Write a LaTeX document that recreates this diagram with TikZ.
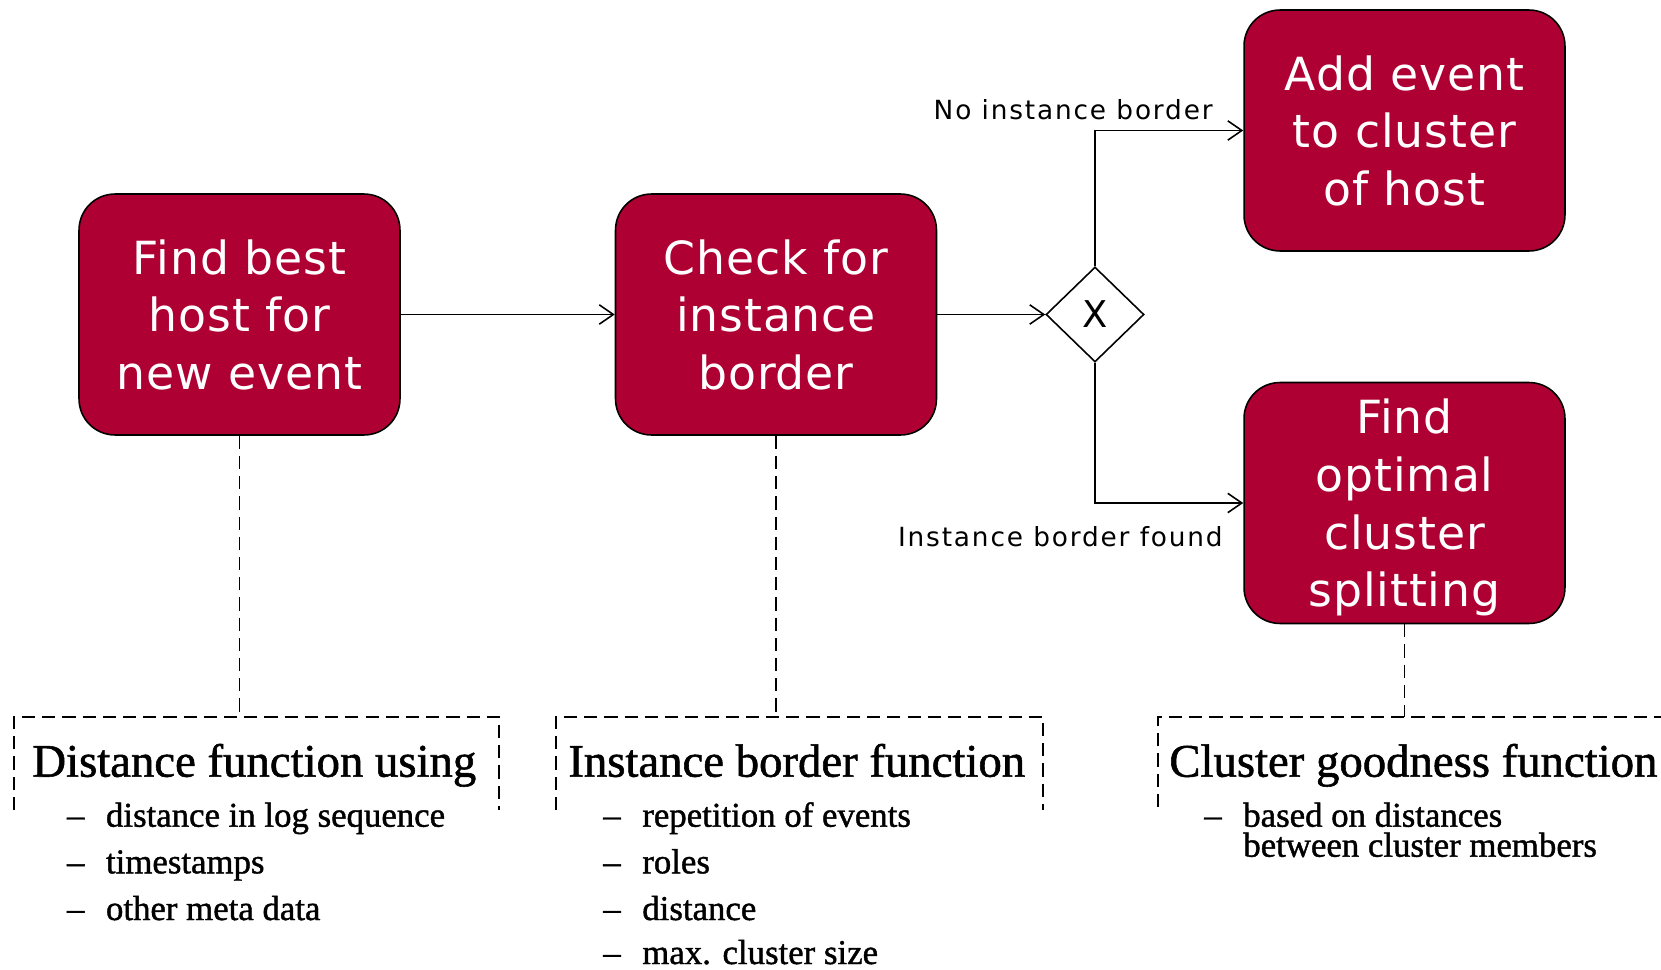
\documentclass[tikz,border=0pt]{standalone}
\usepackage{fontspec}
\setmainfont{Liberation Serif}[FakeBold=1.2]
\newfontfamily\flowfont{DejaVu Sans}[LetterSpace=2]
\newfontfamily\condfont{DejaVu Sans}[LetterSpace=7]
\usetikzlibrary{shapes.geometric,arrows.meta}
\definecolor{taskred}{RGB}{175,0,51}
\newcommand{\bitem}[1]{\makebox[0.78cm][l]{\textendash}#1}

\begin{document}
\begin{tikzpicture}[x=0.02cm,y=-0.02cm,
  task/.style={rectangle, rounded corners=0.72cm, draw=black, line width=0.9pt,
    fill=taskred, text=white, minimum width=6.42cm, minimum height=4.82cm,
    align=center, text depth=0pt, font=\flowfont\fontsize{26}{32.8}\selectfont},
  xorgate/.style={diamond, draw=black, line width=0.9pt, fill=white,
    minimum width=1.96cm, minimum height=1.9cm, inner sep=0pt,
    font=\flowfont\fontsize{21}{24}\selectfont},
  flow/.style={line width=0.9pt, -{Straight Barb[length=8pt,width=11pt]}},
  fence/.style={line width=1pt, dash pattern=on 7.5pt off 4pt},
  cond/.style={anchor=base east, inner sep=0pt, font=\condfont\fontsize{15}{18}\selectfont},
  head/.style={anchor=base west, inner sep=0pt, font=\fontsize{26.6}{30}\selectfont},
  item/.style={anchor=base west, inner sep=0pt, font=\fontsize{19.8}{24}\selectfont}]
\useasboundingbox (0,0) rectangle (1661,970);

% process steps
\node[task] (find) at (239.5,314.5) {Find best\\host for\\new event};
\node[task] (check) at (776,314.5) {Check for\\instance\\border};
\node[xorgate] (xor) at (1095,314.5) {X};
\node[task] (add) at (1404.5,130.5) {Add event\\to cluster\\of host};
\node[task] (split) at (1404.5,503) {Find\\optimal\\cluster\\splitting};

\draw[flow] (find) -- (check);
\draw[flow] (check) -- (xor);
\draw[flow] (xor.north) |- (add.west);
\draw[flow] (xor.south) |- (split.west);
\node[cond] (noBorder) at (1213,119) {No instance border};
\node[cond] (borderFound) at (1223,546) {Instance border found};

% function boxes
\draw[fence] (14,810) |- (499,717) -- (499,810);
\draw[fence] (556,810) |- (1043,717) -- (1043,810);
\draw[fence] (1158,807) |- (1661,717);
\coordinate (distTop) at (240,717);
\coordinate (bordTop) at (776,717);
\coordinate (goodTop) at (1405,717);
\draw[fence] (find.south) -- (find.south |- distTop);
\draw[fence] (check.south) -- (check.south |- bordTop);
\draw[fence] (split.south) -- (split.south |- goodTop);

\node[head] (distHead) at (32,776.7) {Distance function using};
\node[item] (distA) at (66.7,826.7) {\bitem{distance in log sequence}};
\node[item] (distB) at (66.7,873.3) {\bitem{timestamps}};
\node[item] (distC) at (66.7,920) {\bitem{other meta data}};

\node[head] (bordHead) at (568,776.7) {Instance border function};
\node[item] (bordA) at (603,826.7) {\bitem{repetition of events}};
\node[item] (bordB) at (603,873.3) {\bitem{roles}};
\node[item] (bordC) at (603,920) {\bitem{distance}};
\node[item] (bordD) at (603,964) {\bitem{max. cluster size}};

\node[head] (goodHead) at (1169,776.7) {Cluster goodness function};
\node[item] (goodA) at (1204,826.7) {\bitem{based on distances}};
\node[item] (goodB) at (1243,856.7) {between cluster members};
\end{tikzpicture}
\end{document}
